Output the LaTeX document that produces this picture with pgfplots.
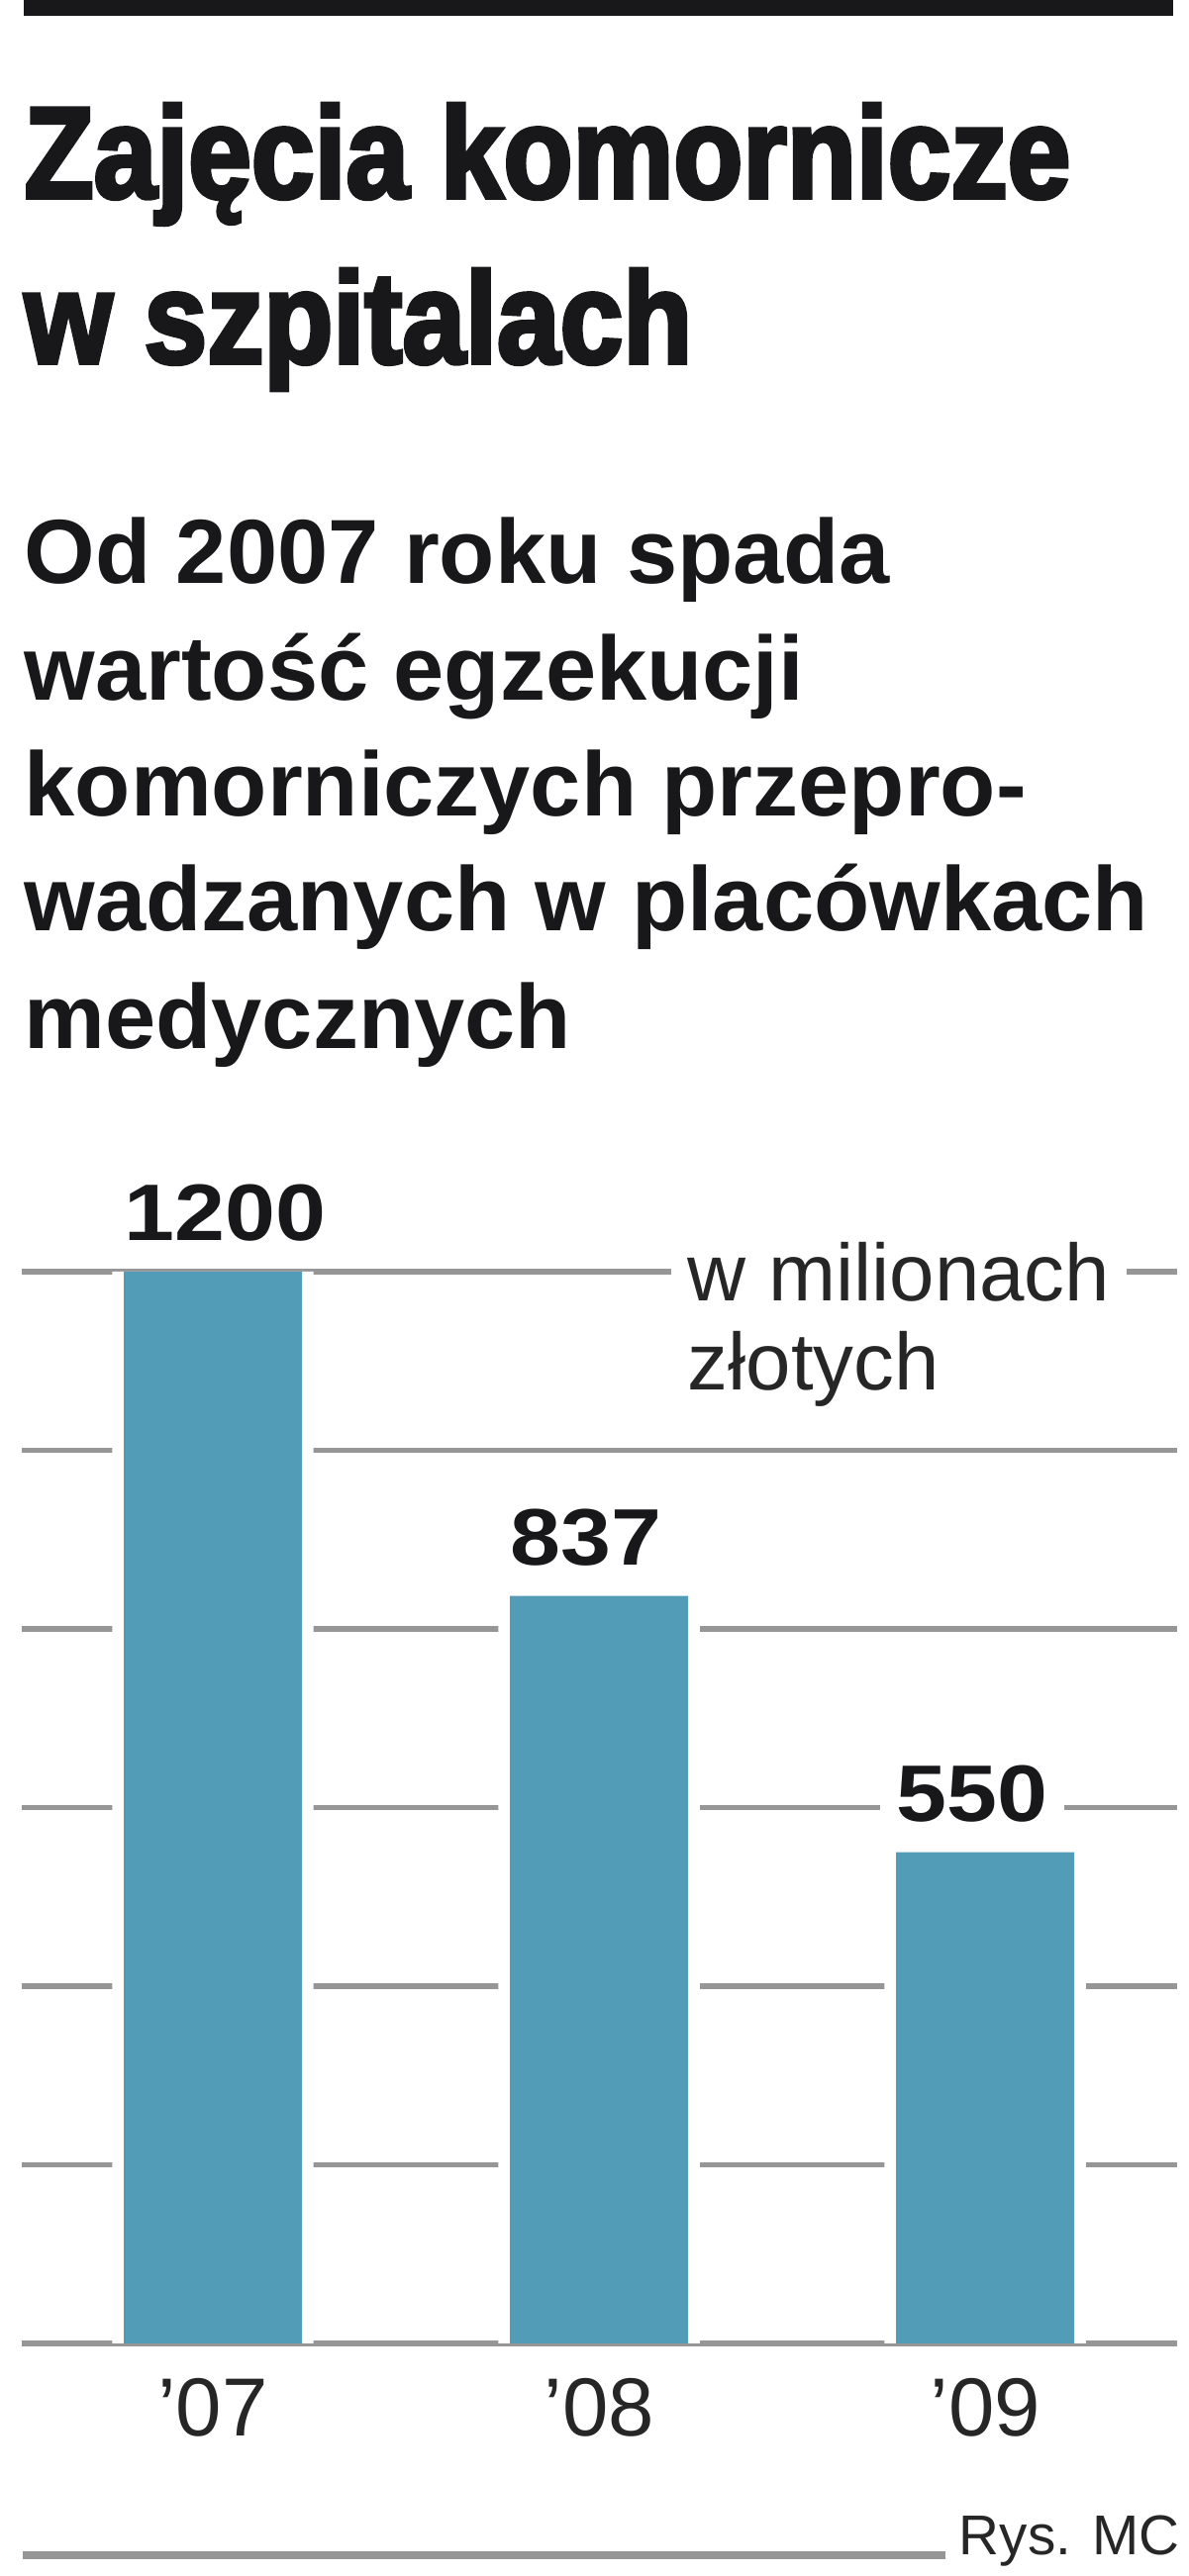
\documentclass[border=0pt]{standalone}
\usepackage{fontspec}
\setmainfont{Liberation Sans}
\newfontface\titlefont{Liberation Sans Bold}[FakeBold=3,FakeStretch=0.87]
\newfontface\subfont{Liberation Sans Bold}
\newfontface\labelfont{Liberation Sans Bold}[FakeStretch=1.13]
\usepackage{pgfplots}
\pgfplotsset{compat=1.18}
\definecolor{barblue}{RGB}{83,156,184}
\definecolor{gridgray}{RGB}{150,150,150}
\definecolor{ink}{RGB}{24,24,26}
\begin{document}
\begin{tikzpicture}
\useasboundingbox (0,0) rectangle (360pt,780.9pt);
% top black rule
\fill[ink] (7.2pt,776.1pt) rectangle (355.5pt,780.9pt);
% title
\node[anchor=base west,inner sep=0pt,text=ink] at (7.2pt,720.9pt) {\titlefont\fontsize{39.5}{39.5}\selectfont Zajęcia komornicze};
\node[anchor=base west,inner sep=0pt,text=ink] at (7.2pt,670.8pt) {\titlefont\fontsize{39.5}{39.5}\selectfont w szpitalach};
% subtitle
\begin{scope}[every node/.style={anchor=base west,inner sep=0pt,text=ink,font=\subfont\fontsize{27.6}{27.6}\selectfont}]
\node at (7.2pt,603.9pt) {Od 2007 roku spada};
\node at (7.2pt,568.5pt) {wartość egzekucji};
\node at (7.2pt,533.4pt) {komorniczych przepro-};
\node at (7.2pt,498.6pt) {wadzanych w placówkach};
\node at (7.2pt,462.9pt) {medycznych};
\end{scope}
\begin{axis}[
  at={(6.6pt,70.5pt)}, anchor=south west,
  width=350.1pt, height=324.9pt, scale only axis,
  xmin=-0.495, xmax=2.497, ymin=0, ymax=1200,
  axis line style={draw=none},
  tick style={draw=none},
  major tick length=0pt,
  ytick={0,200,400,600,800,1000,1200}, yticklabels={},
  ymajorgrids,
  major grid style={draw=gridgray, line width=1.6pt},
  xtick={0,1,2}, xticklabels={’07,’08,’09},
  xticklabel style={anchor=base, yshift=-28.2pt, inner sep=0pt,
     font=\fontsize{25}{25}\selectfont, text=black!85},
  ybar,
  clip=false,
]
\addplot[fill=white, draw=none, bar width=61pt, bar shift=0pt]
  coordinates {(0,1200) (1,837) (2,550)};
\addplot[fill=barblue, draw=none, bar width=54pt, bar shift=0pt,
  point meta=explicit symbolic,
  nodes near coords,
  every node near coord/.append style={anchor=base west, xshift=-32pt, yshift=9.3pt,
     font=\labelfont\fontsize{24.3}{24.3}\selectfont, text=ink,
     fill=white, inner xsep=5pt, inner ysep=0.5pt}]
  coordinates {(0,1200) [1200] (1,837) [837] (2,550) [550]};
\end{axis}
% unit note
\node[anchor=base west, fill=white, inner xsep=5pt, inner ysep=0pt, text=black!85,
  font=\fontsize{24.5}{24.5}\selectfont] at (203.2pt,386.4pt) {w milionach};
\node[anchor=base west, inner xsep=5pt, inner ysep=0pt, text=black!85,
  font=\fontsize{24.5}{24.5}\selectfont] at (203.2pt,359.4pt) {złotych};
% footer
\draw[gridgray, line width=2.4pt] (6.9pt,6.2pt) -- (286.5pt,6.2pt);
\node[anchor=base east, inner sep=0pt, text=black!85, font=\fontsize{17}{17}\selectfont]
  at (357.6pt,6.3pt) {Rys. MC};
\end{tikzpicture}
\end{document}
